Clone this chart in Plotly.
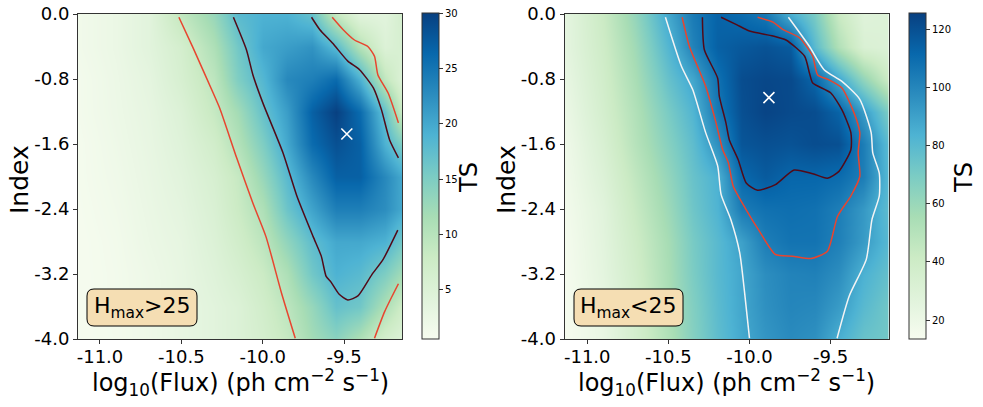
import plotly.graph_objects as go

W, H = 983, 407

# ---------- data: left panel ----------
left_x = [-11.135, -10.9, -10.7, -10.5, -10.3, -10.15, -10.0, -9.85, -9.7, -9.55, -9.4, -9.25, -9.144]
left_y = [0, -0.4, -0.8, -1.2, -1.6, -2.0, -2.4, -2.8, -3.2, -3.6, -4.0]
left_ts = [
    [1.5, 2.5, 4.0, 9.0, 13.0, 18.0, 19.0, 19.0, 17.0, 8.5, 4.0, 4.0, 6.5],
    [1.5, 2.5, 4.0, 6.5, 11.0, 16.0, 20.0, 21.0, 22.0, 18.0, 10.5, 5.0, 6.0],
    [1.2, 2.3, 3.5, 6.0, 9.5, 15.0, 18.5, 23.0, 24.0, 26.0, 19.0, 9.0, 5.0],
    [1.2, 2.2, 3.2, 5.0, 8.5, 12.0, 17.0, 21.0, 27.0, 30.0, 26.0, 17.0, 8.0],
    [1.0, 2.0, 3.0, 4.5, 7.0, 10.5, 15.0, 20.0, 26.0, 28.5, 27.0, 19.0, 15.0],
    [1.0, 1.8, 2.8, 4.0, 6.0, 8.5, 13.0, 18.0, 23.0, 27.0, 27.0, 23.0, 20.0],
    [0.9, 1.6, 2.6, 3.6, 5.5, 8.0, 11.0, 16.5, 20.5, 24.0, 24.0, 22.5, 20.0],
    [0.8, 1.4, 2.4, 3.2, 5.0, 7.0, 9.5, 13.5, 17.5, 20.0, 20.0, 19.0, 16.0],
    [0.8, 1.3, 2.1, 3.0, 4.5, 6.0, 8.0, 11.0, 16.0, 19.0, 18.0, 15.0, 12.0],
    [0.8, 1.3, 2.0, 3.0, 4.0, 5.0, 7.0, 9.5, 13.0, 17.0, 16.0, 11.0, 7.5],
    [0.8, 1.2, 2.0, 3.0, 4.0, 5.0, 6.5, 8.5, 12.0, 14.0, 11.0, 6.5, 5.0],
]
left_best = ([-9.483], [-1.477])
left_contours = [
    ("red", [-10.515, -10.427, -10.305, -10.264, -10.16, -10.06, -9.98, -9.885, -9.80],
            [-0.04, -0.42, -0.97, -1.16, -1.77, -2.33, -2.74, -3.43, -3.99]),
    ("dark", [-10.18, -10.10, -10.06, -9.998, -9.875, -9.79, -9.69, -9.64, -9.61, -9.58, -9.53, -9.477, -9.415, -9.33, -9.26, -9.17],
             [-0.04, -0.44, -0.75, -1.10, -1.71, -2.24, -2.74, -2.98, -3.23, -3.30, -3.45, -3.52, -3.47, -3.21, -3.02, -2.66]),
    ("dark", [-9.70, -9.65, -9.57, -9.477, -9.405, -9.32, -9.27, -9.22, -9.166],
             [-0.04, -0.19, -0.36, -0.58, -0.685, -0.91, -1.18, -1.55, -1.77]),
    ("red", [-9.573, -9.507, -9.436, -9.354, -9.313, -9.292, -9.23, -9.166],
            [-0.04, -0.19, -0.32, -0.40, -0.52, -0.75, -0.97, -1.34]),
    ("red", [-9.313, -9.25, -9.166], [-3.99, -3.66, -3.32]),
]

# ---------- data: right panel ----------
right_x = [-11.14, -10.9, -10.7, -10.5, -10.35, -10.2, -10.05, -9.9, -9.75, -9.6, -9.45, -9.3, -9.14]
right_y = [0, -0.4, -0.8, -1.2, -1.6, -2.0, -2.4, -2.8, -3.2, -3.6, -4.0]
right_ts = [
    [24, 42, 62, 88, 104, 113, 110, 105, 85, 70, 42, 28, 30],
    [24, 40, 58, 82, 101, 114, 117, 119, 116, 80, 52, 32, 30],
    [22, 38, 55, 76, 88, 108, 121, 123, 122, 112, 88, 62, 40],
    [20, 36, 52, 70, 82, 105, 120, 124, 122, 121, 113, 92, 68],
    [18, 33, 50, 66, 78, 96, 118, 120, 119, 121, 120, 103, 78],
    [17, 30, 46, 62, 75, 84, 111, 116, 112, 112, 110, 103, 80],
    [16, 27, 43, 59, 73, 83, 104, 108, 109, 108, 103, 93, 78],
    [15, 26, 40, 56, 70, 80, 90, 103, 107, 107, 102, 92, 80],
    [14.5, 25, 38, 55, 69, 80, 88, 97, 101, 102, 97, 84, 76],
    [14, 23, 36, 54, 67, 79, 88, 96, 100, 99, 92, 80, 72],
    [14, 22, 36, 52, 66, 78, 87, 94, 98, 96, 85, 75, 72],
]
right_best = ([-9.88], [-1.03])
right_contours = [
    ("white", [-10.518, -10.42, -10.35, -10.27, -10.196, -10.175, -10.115, -10.06, -10.03, -10.0],
              [-0.04, -0.64, -0.93, -1.46, -1.87, -2.22, -2.53, -2.94, -3.43, -3.99]),
    ("white", [-9.76, -9.63, -9.54, -9.43, -9.32, -9.25, -9.24, -9.2, -9.2, -9.245, -9.28, -9.385, -9.46],
              [-0.04, -0.40, -0.685, -0.83, -1.05, -1.46, -1.71, -1.96, -2.24, -2.53, -3.02, -3.47, -3.99]),
    ("red", [-10.415, -10.37, -10.27, -10.206, -10.165, -10.13, -10.10, -10.02, -9.94, -9.84, -9.735, -9.62, -9.52, -9.457, -9.375, -9.32, -9.33, -9.32, -9.355, -9.43, -9.51, -9.58, -9.61, -9.69, -9.795, -9.855, -9.95],
            [-0.04, -0.40, -0.89, -1.34, -1.67, -1.83, -2.12, -2.41, -2.67, -2.96, -2.98, -3.01, -2.92, -2.49, -2.24, -2.0, -1.71, -1.46, -1.22, -0.91, -0.81, -0.75, -0.52, -0.295, -0.19, -0.10, -0.04]),
    ("dark", [-10.29, -10.278, -10.196, -10.186, -10.145, -10.124, -10.07, -10.02, -9.95, -9.84, -9.725, -9.61, -9.52, -9.45, -9.375, -9.375, -9.43, -9.50, -9.61, -9.63, -9.66, -9.775, -9.855, -10.0, -10.08, -10.175],
             [-0.04, -0.44, -0.79, -1.01, -1.34, -1.55, -1.79, -2.08, -2.17, -2.10, -1.92, -1.965, -2.02, -1.94, -1.67, -1.46, -1.18, -0.97, -0.85, -0.73, -0.52, -0.32, -0.27, -0.21, -0.13, -0.04]),
]

# ---------- labels ----------
x_ticks = [-11.0, -10.5, -10.0, -9.5]
x_labels = ["-11.0", "-10.5", "-10.0", "-9.5"]
y_ticks = [0, -0.8, -1.6, -2.4, -3.2, -4.0]
y_labels = ["0.0", "-0.8", "-1.6", "-2.4", "-3.2", "-4.0"]
left_cb_ticks = [5, 10, 15, 20, 25, 30]
right_cb_ticks = [20, 40, 60, 80, 100, 120]
x_title = "log<sub>10</sub>(Flux) (ph cm<sup>\u22122</sup> s<sup>\u22121</sup>)"
y_title = "Index"

FONT = "DejaVu Sans"
LINE = {"red": "#e8452f", "dark": "#520a18", "white": "#f4f4f4"}
AX = "#333333"


def px(v):
    return v / W


def py(v):
    return 1 - v / H


def rounded(x0, y0, x1, y1, r=7):
    pts = [
        f"M {px(x0 + r)} {py(y0)}", f"L {px(x1 - r)} {py(y0)}",
        f"Q {px(x1)} {py(y0)} {px(x1)} {py(y0 + r)}", f"L {px(x1)} {py(y1 - r)}",
        f"Q {px(x1)} {py(y1)} {px(x1 - r)} {py(y1)}", f"L {px(x0 + r)} {py(y1)}",
        f"Q {px(x0)} {py(y1)} {px(x0)} {py(y1 - r)}", f"L {px(x0)} {py(y0 + r)}",
        f"Q {px(x0)} {py(y0)} {px(x0 + r)} {py(y0)} Z",
    ]
    return " ".join(pts)


fig = go.Figure()


def note(xp, yp, text, size, angle=0):
    fig.add_annotation(x=px(xp), y=py(yp), xref="paper", yref="paper", xanchor="center", yanchor="middle",
                       text=text, showarrow=False, textangle=angle,
                       font=dict(family=FONT, size=size, color="black"))


def panel(n, xs, ys, z, zmin, zmax, contours, best, cb_ticks, box, cb_x, cb_title_x, rng, dom, label, ytitle_x):
    xa, ya = ("x", "y") if n == 1 else ("x2", "y2")
    fig.add_trace(go.Heatmap(
        x=xs, y=ys, z=z, zmin=zmin, zmax=zmax, colorscale="GnBu", zsmooth="best",
        xaxis=xa, yaxis=ya, showscale=True,
        colorbar=dict(
            x=px(cb_x), xanchor="left", xpad=0, y=py(13), yanchor="top", ypad=0,
            len=326 / H, lenmode="fraction", thickness=17, thicknessmode="pixels",
            outlinewidth=1, outlinecolor=AX, tickmode="array", tickvals=cb_ticks,
            ticks="outside", ticklen=4, tickwidth=1, tickcolor=AX,
            tickfont=dict(family=FONT, size=10, color="black"),
        ),
    ))
    for col, cx, cy in contours:
        fig.add_trace(go.Scatter(
            x=cx, y=cy, mode="lines", xaxis=xa, yaxis=ya, showlegend=False,
            line=dict(color=LINE[col], width=1.5, shape="spline", smoothing=0.6),
        ))
    fig.add_trace(go.Scatter(
        x=best[0], y=best[1], mode="markers", xaxis=xa, yaxis=ya, showlegend=False,
        marker=dict(symbol="x-thin", size=11, line=dict(color="white", width=1.6)),
    ))
    axis = dict(showgrid=False, zeroline=False, showline=True, mirror=True, linecolor=AX,
                linewidth=1, ticks="outside", ticklen=4, tickwidth=1, tickcolor=AX,
                tickfont=dict(family=FONT, size=18, color="black"), tickmode="array", automargin=False)
    fig.update_layout({
        ("xaxis" if n == 1 else "xaxis2"): dict(
            axis, domain=[px(dom[0]), px(dom[1])], range=rng, tickvals=x_ticks, ticktext=x_labels,
            anchor=ya, ticklabelstandoff=-3),
        ("yaxis" if n == 1 else "yaxis2"): dict(
            axis, domain=[py(339), py(14)], range=[-4, 0], tickvals=y_ticks, ticktext=y_labels,
            anchor=xa),
    })
    fig.add_shape(type="path", path=rounded(*box), xref="paper", yref="paper",
                  fillcolor="#f5deb3", line=dict(color="black", width=1), layer="above")
    note((box[0] + box[2]) / 2, (box[1] + box[3]) / 2, label, 22)
    note(cb_title_x, 178, "TS", 24, -90)
    note(ytitle_x, 180, y_title, 25, -90)
    note((dom[0] + dom[1]) / 2, 382, x_title, 24)


panel(1, left_x, left_y, left_ts, 0.56, 30, left_contours, left_best, left_cb_ticks,
      (87, 289, 197, 326), 422, 469, [-11.135, -9.144], (78, 402), "H<sub>max</sub>>25", 19)
panel(2, right_x, right_y, right_ts, 13.5, 125.5, right_contours, right_best, right_cb_ticks,
      (574, 289, 683, 326), 909, 964, [-11.14, -9.14], (564.5, 889), "H<sub>max</sub><25", 506)

fig.update_layout(width=W, height=H, autosize=False, margin=dict(l=0, r=0, t=0, b=0, autoexpand=False),
                  paper_bgcolor="white", plot_bgcolor="white", showlegend=False,
                  font=dict(family=FONT))
fig.write_html("out.html", post_script="document.body.style.margin='0';",
               config={"displayModeBar": False})
